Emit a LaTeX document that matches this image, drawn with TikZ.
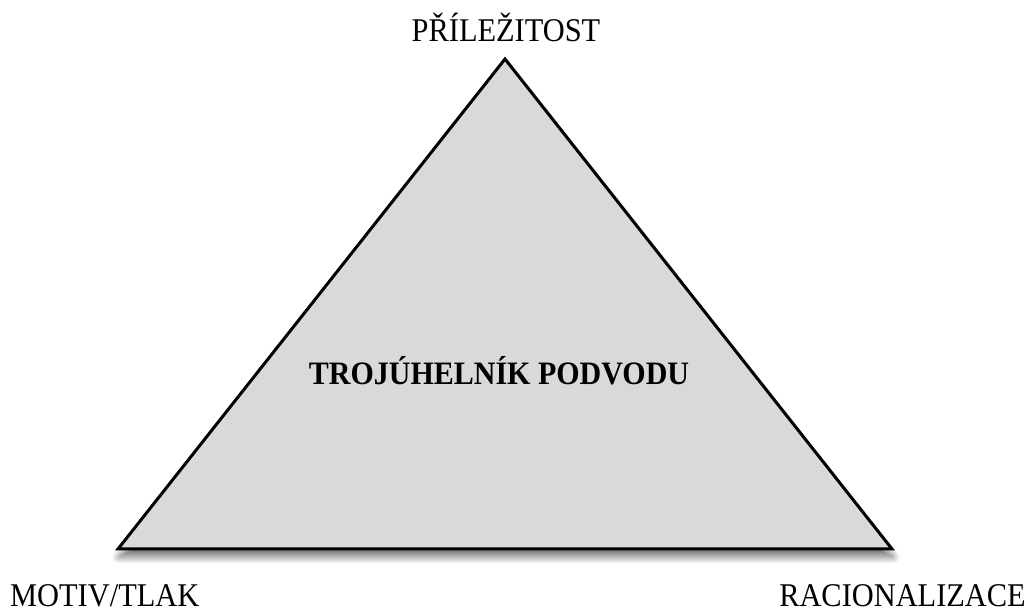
\documentclass[tikz,border=0pt]{standalone}
\usepackage{fontspec}
\setmainfont{Liberation Serif}
\usetikzlibrary{shadows.blur}
\definecolor{trifill}{HTML}{D9D9D9}
\newcommand{\vstretch}[1]{\scalebox{1}[1.09]{#1}}
\tikzset{
  lbl/.style={inner sep=0pt, font=\fontsize{30.4}{34}\selectfont, anchor=base},
  tri/.style={draw=black, line width=3pt, fill=trifill, line join=miter,
    blur shadow={shadow xshift=1pt, shadow yshift=-8pt, shadow blur steps=14, shadow blur radius=7pt, shadow opacity=55}}
}
\begin{document}
\begin{tikzpicture}[x=1pt,y=1pt]
\useasboundingbox (0,0) rectangle (1029,610);
\coordinate (A) at (505,551);
\coordinate (B) at (118,61);
\coordinate (C) at (892,61);
\path[tri] (A) -- (B) -- (C) -- cycle;
\node[lbl] (top) at (506,568) {\vstretch{PŘÍLEŽITOST}};
\node[lbl, anchor=base west] (left) at (10,3) {\vstretch{MOTIV/TLAK}};
\node[lbl, anchor=base east] (right) at (1026,3) {\vstretch{RACIONALIZACE}};
\node[lbl, font=\fontsize{30}{34}\selectfont\bfseries] (mid) at (499,225) {\vstretch{TROJÚHELNÍK PODVODU}};
\end{tikzpicture}
\end{document}
